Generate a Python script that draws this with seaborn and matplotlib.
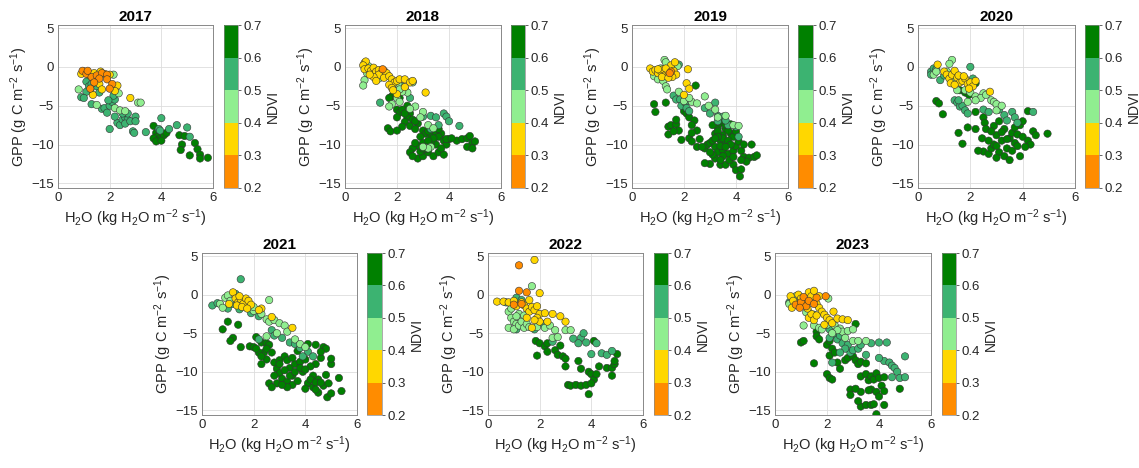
import numpy as np
import pandas as pd
import seaborn as sns
import matplotlib.pyplot as plt
from matplotlib.colors import ListedColormap, BoundaryNorm
from matplotlib.cm import ScalarMappable

# NDVI class midpoints: 0.25 orange, 0.35 yellow, 0.45 light green, 0.55 mid green, 0.65 dark green
O, Y, L, M, D = 0.25, 0.35, 0.45, 0.55, 0.65

pts_2017 = [
    (0.95, -0.5, O), (1.0, -0.6, Y), (1.1, -0.9, O), (1.2, -1.0, Y), (1.3, -1.3, O), (1.4, -0.8, Y),
    (1.5, -1.1, O), (1.65, -0.6, Y), (1.7, -0.8, O), (1.8, -0.9, Y), (1.9, -1.0, O), (2.0, -1.0, Y),
    (2.15, -1.0, L), (1.6, -1.5, O), (1.9, -1.6, O), (2.1, -2.2, O), (2.3, -2.4, Y), (1.6, -2.2, Y),
    (1.4, -2.0, O), (1.7, -2.9, Y), (2.0, -2.8, O), (2.2, -3.1, Y), (2.35, -3.4, L), (1.35, -3.6, Y),
    (1.25, -2.8, O), (2.8, -4.0, Y), (3.1, -4.6, L), (3.2, -4.6, L), (0.9, -0.9, Y), (1.15, -0.5, O),
    (0.8, -2.9, L), (1.1, -1.9, M), (1.2, -2.5, M), (1.25, -3.0, M), (1.1, -3.2, M), (1.5, -2.5, M),
    (1.6, -3.3, M), (1.3, -2.2, M), (0.9, -3.9, M), (1.0, -4.0, M), (1.3, -4.8, M), (1.5, -4.9, L),
    (1.7, -5.4, M), (1.8, -5.3, M), (1.9, -5.9, M), (2.0, -5.0, M), (2.1, -4.5, M), (2.2, -4.2, M),
    (2.15, -3.7, M), (1.95, -4.3, M), (2.2, -5.3, L), (2.4, -5.6, L), (2.0, -8.0, M), (2.3, -7.2, M),
    (2.4, -7.5, M), (2.5, -6.8, M), (2.6, -6.5, M), (2.7, -6.8, M), (2.7, -6.0, M), (2.6, -7.3, M),
    (2.8, -7.0, M), (2.9, -8.3, M), (2.95, -8.5, M), (3.4, -8.4, M), (3.0, -6.4, M), (2.5, -6.0, M),
    (2.2, -6.4, M), (2.6, -5.7, L), (3.0, -7.0, M), (3.9, -8.0, M), (4.0, -6.6, M), (4.3, -8.0, M),
    (4.6, -7.5, M), (5.0, -7.8, M), (5.1, -9.0, M), (3.7, -7.6, D), (3.8, -8.5, D), (3.85, -9.0, D),
    (3.7, -9.2, D), (3.95, -9.3, D), (4.1, -8.8, D), (3.8, -9.6, D), (4.0, -9.5, D), (4.2, -8.5, D),
    (4.7, -8.8, D), (4.9, -8.9, D), (4.8, -10.0, D), (4.75, -10.7, D), (5.1, -11.4, D), (5.3, -9.8, D),
    (5.4, -10.6, D), (5.5, -11.3, D), (5.5, -11.8, D), (5.8, -11.7, D), (3.95, -8.2, M),
]

pts_2018 = [
    (0.75, 0.5, Y), (0.8, 0.7, Y), (0.7, 0.2, Y), (0.75, -0.3, Y), (0.9, -0.2, Y), (1.0, -0.5, Y),
    (1.1, -0.1, Y), (1.2, -0.6, Y), (1.3, -0.4, Y), (1.4, -0.8, Y), (1.5, -0.5, Y), (1.45, -0.3, O),
    (1.6, -0.8, Y), (1.3, -1.0, Y), (1.1, -1.3, Y), (0.95, -1.0, Y), (1.2, -1.8, Y), (1.5, -1.4, Y),
    (1.7, -1.2, Y), (1.8, -1.6, Y), (1.9, -2.0, Y), (2.0, -1.8, Y), (2.1, -1.6, Y), (2.3, -1.6, Y),
    (2.5, -2.0, Y), (2.6, -1.8, Y), (2.3, -2.6, Y), (1.7, -2.3, Y), (1.8, -2.7, Y), (3.1, -3.3, Y),
    (2.0, -3.5, Y), (1.85, -3.0, Y),
    (0.75, -1.7, L), (0.7, -2.4, L), (0.85, -0.8, L), (0.9, 0.1, L), (1.3, -1.5, L), (2.05, -2.2, L),
    (2.3, -2.8, L), (2.6, -2.0, L), (2.0, -4.0, L), (2.1, -4.5, L), (1.8, -4.8, L), (1.7, -5.1, L),
    (2.4, -3.3, L), (2.2, -3.2, L), (2.1, -2.9, L), (2.7, -5.1, L), (2.5, -5.4, L), (3.0, -5.8, L),
    (2.9, -6.5, L), (3.2, -7.5, L), (3.4, -7.9, L), (3.3, -10.3, L), (3.2, -10.5, L), (3.0, -10.3, L),
    (1.35, -4.6, M), (2.2, -2.5, M), (2.5, -4.0, M), (3.0, -6.4, M), (3.3, -6.3, M), (3.5, -6.5, M),
    (3.8, -6.0, M), (3.9, -6.4, M), (4.0, -7.0, M), (4.4, -7.6, M), (3.6, -7.5, M), (3.3, -8.0, M),
    (2.6, -1.9, M),
    (1.8, -3.8, D), (1.7, -4.0, D), (2.1, -4.0, D), (2.4, -5.0, D), (2.0, -5.5, D), (2.1, -5.9, D),
    (2.2, -5.5, D), (2.5, -6.0, D), (2.4, -6.5, D), (2.3, -7.1, D), (2.6, -6.8, D), (2.8, -7.3, D),
    (2.2, -7.7, D), (2.5, -7.6, D), (2.7, -8.0, D), (3.0, -8.2, D), (3.1, -8.6, D), (2.9, -9.0, D),
    (3.3, -8.7, D), (3.5, -8.5, D), (3.7, -8.6, D), (3.6, -9.0, D), (3.8, -9.5, D), (3.4, -9.6, D),
    (3.0, -9.8, D), (2.8, -10.2, D), (2.6, -10.5, D), (2.5, -11.0, D), (2.8, -11.8, D), (3.0, -11.5, D),
    (3.2, -11.0, D), (3.4, -11.5, D), (3.6, -11.0, D), (3.8, -11.3, D), (3.5, -10.0, D), (3.9, -10.0, D),
    (4.0, -9.3, D), (4.3, -9.5, D), (4.5, -9.3, D), (4.7, -9.2, D), (4.8, -8.9, D), (4.9, -9.8, D),
    (5.0, -9.6, D), (4.7, -10.3, D), (4.9, -10.5, D), (1.65, -7.9, D), (1.75, -8.3, D), (2.0, -8.2, D),
    (3.1, -10.6, D), (2.9, -10.9, D), (3.3, -9.9, D), (3.2, -8.3, D), (3.4, -9.2, D), (3.6, -8.0, D),
    (3.0, -10.5, D), (2.6, -11.5, D), (3.2, -9.5, D), (3.7, -10.5, D), (2.7, -9.8, D), (3.9, -9.3, D),
    (4.1, -9.2, D), (2.3, -6.0, D), (2.0, -6.5, D), (2.7, -7.0, D),
]

pts_2019 = [
    (0.7, -0.2, Y), (0.8, -0.6, Y), (0.9, -0.4, Y), (1.0, -0.8, Y), (1.1, -0.5, Y), (1.2, -0.3, Y),
    (1.3, -1.0, Y), (1.4, -0.6, Y), (1.5, 0.2, Y), (1.6, -0.5, Y), (1.7, -1.0, Y), (1.55, -1.3, Y),
    (1.65, 0.6, Y), (1.3, -0.2, Y), (1.15, -1.3, Y), (1.0, -0.3, Y), (2.1, -2.1, Y), (2.2, -2.8, Y),
    (2.0, -3.6, Y), (2.15, -0.3, Y), (1.4, -1.4, Y), (1.5, -0.6, O), (1.45, -0.8, O),
    (1.25, 0.9, L), (1.3, 0.6, L), (1.1, -0.2, L), (0.85, -1.2, L), (1.0, -1.6, L), (1.2, -1.8, L),
    (1.3, -2.5, L), (1.35, -2.9, L), (1.75, 0.1, L), (1.5, -0.2, L), (2.0, -4.4, L), (2.3, -4.5, L),
    (2.5, -4.7, L), (2.8, -3.8, L), (2.95, -5.0, L), (3.2, -5.5, L), (3.6, -6.3, L), (3.9, -7.5, L),
    (4.1, -7.6, L), (3.3, -6.5, L), (1.8, -3.2, L), (2.2, -4.0, L),
    (1.6, -3.7, M), (1.7, -4.2, M), (1.85, -4.2, M), (1.9, -5.0, M), (2.05, -4.6, M), (2.1, -5.3, M),
    (2.2, -5.7, M), (2.8, -5.3, M), (3.0, -6.0, M), (3.2, -4.6, M), (3.3, -6.3, M), (1.8, 0.3, M),
    (3.5, -6.4, M), (3.7, -7.5, M), (4.1, -9.0, M), (3.3, -7.0, M), (3.6, -6.9, M), (4.0, -7.7, M),
    (0.85, -4.8, D), (0.9, -5.8, D), (1.3, -4.6, D), (1.4, -7.7, D), (1.5, -7.5, D), (1.4, -8.7, D),
    (1.7, -7.4, D), (1.8, -8.2, D), (1.9, -9.4, D), (2.0, -5.7, D), (2.1, -6.0, D), (2.2, -6.5, D),
    (2.4, -6.9, D), (2.3, -7.5, D), (2.5, -8.2, D), (2.45, -2.4, D), (2.2, -9.2, D), (2.6, -9.3, D),
    (2.3, -9.6, D), (2.5, -10.3, D), (2.8, -10.5, D), (2.9, -10.0, D), (3.0, -9.8, D), (3.1, -9.5, D),
    (3.2, -8.6, D), (3.3, -7.8, D), (3.1, -7.5, D), (3.4, -7.2, D), (3.5, -7.0, D), (3.6, -8.0, D),
    (3.5, -8.8, D), (3.4, -9.5, D), (3.6, -9.8, D), (3.8, -8.6, D), (3.9, -9.0, D), (4.0, -8.3, D),
    (3.2, -10.3, D), (3.3, -11.0, D), (3.5, -10.7, D), (3.7, -11.2, D), (3.9, -10.8, D), (4.0, -10.2, D),
    (4.2, -10.8, D), (4.3, -11.6, D), (4.5, -11.7, D), (4.7, -11.6, D), (4.8, -11.4, D), (4.6, -10.0, D),
    (3.2, -11.8, D), (3.4, -12.6, D), (3.0, -12.5, D), (2.8, -12.4, D), (3.6, -12.6, D), (3.9, -12.6, D),
    (4.0, -13.3, D), (4.2, -13.2, D), (4.15, -14.1, D), (4.4, -12.2, D), (3.75, -12.0, D), (3.1, -11.3, D),
    (3.3, -8.3, D), (3.5, -9.2, D), (3.7, -9.5, D), (3.8, -10.0, D), (3.4, -10.2, D), (3.6, -10.3, D),
    (3.3, -9.0, D), (3.7, -8.2, D), (4.1, -9.6, D), (4.3, -10.0, D), (3.9, -11.6, D), (3.5, -11.5, D),
    (3.2, -9.2, D), (3.8, -7.4, D), (4.2, -12.0, D), (3.4, -12.0, D), (3.0, -11.0, D), (2.7, -10.3, D),
    (3.6, -7.5, D), (1.7, -6.8, D), (1.6, -8.3, D), (2.3, -8.5, D),
]

pts_2020 = [
    (0.75, 0.3, Y), (1.0, -0.6, Y), (1.1, -1.0, Y), (1.2, -1.5, Y), (1.3, -1.0, Y), (1.4, -0.5, Y),
    (1.5, -1.4, Y), (1.6, -2.0, Y), (1.7, -1.8, Y), (1.8, -1.5, Y), (1.9, -2.2, Y), (2.0, -2.0, Y),
    (2.1, -2.5, Y), (2.2, -1.8, Y), (1.95, -2.8, Y), (1.25, -2.1, Y), (1.55, -1.1, Y), (1.75, -1.2, Y),
    (2.75, -3.2, Y), (1.4, -2.3, Y),
    (1.3, 0.9, L), (1.2, 0.4, L), (1.1, -0.6, L), (0.6, -1.0, L), (0.7, -0.6, L), (1.5, -3.0, L),
    (1.8, -3.0, L), (2.0, -3.3, L), (2.2, -3.8, L), (2.5, -3.4, L), (2.4, -4.0, L), (2.6, -3.6, L),
    (2.8, -4.3, L), (2.9, -4.5, L), (3.0, -4.8, L), (2.2, -4.3, L), (1.9, -4.5, L), (3.0, -5.6, L),
    (3.2, -5.0, L), (1.3, -1.8, L),
    (0.5, -0.6, M), (0.6, -0.2, M), (0.7, -0.3, M), (0.5, -1.0, M), (0.85, -1.7, M), (1.0, -1.1, M),
    (1.1, -0.8, M), (2.0, 0.0, M), (2.1, -1.5, M), (1.4, -4.3, M), (1.5, -4.6, M), (1.6, -5.1, M),
    (1.7, -5.0, M), (1.8, -5.6, M), (1.9, -6.0, M), (1.55, -4.3, M), (2.5, -5.5, M), (2.7, -5.8, M),
    (3.1, -5.5, M), (3.3, -6.2, M), (3.6, -5.8, M), (3.7, -6.5, M), (4.4, -5.8, M), (3.4, -6.9, M),
    (3.8, -7.2, M),
    (0.7, -4.4, D), (0.8, -4.7, D), (0.95, -6.1, D), (1.6, -3.0, D), (1.8, -3.3, D), (2.2, -2.1, D),
    (1.95, -3.6, D), (1.55, -8.5, D), (1.7, -9.9, D), (1.9, -7.8, D), (2.2, -8.0, D), (2.5, -6.5, D),
    (2.55, -7.2, D), (2.6, -8.0, D), (2.45, -9.2, D), (2.5, -10.9, D), (2.7, -11.2, D), (2.8, -10.5, D),
    (2.9, -10.0, D), (2.7, -9.5, D), (3.0, -8.8, D), (2.9, -7.6, D), (3.1, -7.0, D), (3.2, -9.5, D),
    (3.1, -11.0, D), (3.3, -11.5, D), (3.5, -12.0, D), (3.4, -10.5, D), (3.6, -10.8, D), (3.7, -9.8, D),
    (3.5, -9.2, D), (3.6, -8.5, D), (3.8, -8.7, D), (3.9, -7.5, D), (4.0, -7.0, D), (4.0, -9.0, D),
    (4.2, -9.5, D), (4.3, -10.0, D), (3.9, -11.5, D), (4.1, -10.3, D), (4.4, -8.3, D), (4.5, -8.8, D),
    (4.2, -5.7, D), (4.95, -8.6, D), (3.3, -8.0, D), (2.3, -10.8, D), (3.0, -11.7, D), (2.2, -5.8, D),
    (3.0, -10.2, D), (3.2, -8.4, D), (3.4, -9.3, D), (3.7, -7.8, D), (3.8, -10.2, D), (2.8, -8.3, D),
]

pts_2021 = [
    (1.2, 0.3, Y), (1.3, -0.5, Y), (1.4, -1.0, Y), (1.5, -0.6, Y), (1.6, -1.2, Y), (1.7, -0.5, Y),
    (1.8, -0.8, Y), (1.9, -1.3, Y), (1.35, -1.4, Y), (1.55, -1.6, Y), (1.75, -1.8, Y), (2.3, -1.8, Y),
    (2.2, -2.0, Y), (2.7, -2.9, Y), (3.5, -4.3, Y), (1.45, -0.2, Y), (1.05, -1.2, Y),
    (0.7, -1.2, L), (0.9, -0.4, L), (1.0, -0.1, L), (0.8, -1.7, L), (1.1, -0.8, L), (2.6, -0.7, L),
    (2.0, -2.1, L), (2.3, -2.5, L), (2.5, -3.2, L), (2.6, -3.5, L), (2.8, -3.3, L), (3.0, -3.7, L),
    (3.2, -4.0, L), (3.3, -4.8, L), (2.9, -5.0, L), (2.5, -5.4, L), (3.6, -5.8, L), (3.8, -6.4, L),
    (4.0, -6.8, L), (2.0, -1.6, L),
    (1.5, 2.0, M), (0.4, -1.4, M), (0.6, -1.1, M), (1.3, 0.1, M), (1.0, -1.8, M), (1.2, -1.2, M),
    (1.45, -1.9, M), (2.2, -2.8, M), (1.9, -2.4, M), (2.7, -4.6, M), (2.8, -5.3, M), (3.1, -5.6, M),
    (3.4, -6.2, M), (3.6, -6.4, M), (3.8, -6.9, M), (4.1, -7.4, M), (4.3, -8.0, M), (3.9, -8.0, M),
    (2.2, -5.8, M),
    (0.8, -4.5, D), (1.0, -3.5, D), (1.2, -5.6, D), (1.4, -3.9, D), (1.5, -6.8, D), (1.1, -6.0, D),
    (1.85, -6.7, D), (2.0, -6.8, D), (2.1, -5.5, D), (2.3, -6.2, D), (2.5, -6.3, D), (2.4, -7.5, D),
    (2.6, -6.5, D), (2.7, -7.5, D), (2.2, -7.5, D), (2.5, -8.4, D), (2.3, -9.0, D), (2.8, -8.8, D),
    (3.0, -8.5, D), (3.2, -8.0, D), (2.9, -9.6, D), (3.0, -10.2, D), (3.1, -10.9, D), (2.9, -11.5, D),
    (2.6, -11.5, D), (2.7, -12.0, D), (3.3, -11.3, D), (3.5, -11.7, D), (3.7, -11.2, D), (3.5, -10.5, D),
    (3.4, -9.5, D), (3.6, -9.0, D), (3.8, -8.7, D), (4.0, -8.4, D), (4.1, -6.4, D), (4.4, -6.5, D),
    (4.7, -6.8, D), (4.8, -7.0, D), (4.6, -8.2, D), (4.4, -9.0, D), (4.2, -9.3, D), (4.3, -10.5, D),
    (4.5, -11.0, D), (4.1, -11.5, D), (4.3, -12.0, D), (4.0, -12.2, D), (4.5, -12.7, D), (4.7, -11.8, D),
    (4.9, -11.5, D), (4.85, -13.3, D), (5.0, -12.8, D), (5.4, -12.5, D), (5.0, -9.0, D), (5.0, -8.3, D),
    (4.8, -10.4, D), (5.3, -10.8, D), (3.9, -10.0, D), (3.3, -12.0, D), (3.0, -9.0, D), (3.2, -9.8, D),
    (3.4, -10.5, D), (3.6, -10.0, D), (3.3, -8.5, D), (3.5, -8.2, D), (3.8, -9.5, D), (4.0, -9.7, D),
    (2.8, -10.5, D), (3.1, -11.7, D), (4.2, -11.0, D), (4.4, -11.4, D), (4.6, -11.4, D), (4.4, -12.3, D),
    (2.5, -7.0, D), (2.1, -7.0, D), (2.3, -8.0, D), (3.7, -7.3, D), (4.6, -7.4, D),
]

pts_2022 = [
    (1.2, 3.8, O), (1.2, 0.5, O), (1.5, 0.3, O), (1.0, -1.3, O), (1.3, -1.2, O),
    (1.8, 4.5, Y), (0.35, -0.9, Y), (0.6, -0.9, Y), (0.8, -1.0, Y), (1.0, -0.8, Y), (1.1, -1.5, Y),
    (1.3, -1.0, Y), (1.4, -1.4, Y), (1.5, -1.8, Y), (1.6, -2.2, Y), (1.7, -1.6, Y), (1.8, -2.0, Y),
    (1.9, -1.5, Y), (2.0, -2.5, Y), (1.9, -3.0, Y), (2.0, -3.5, Y), (1.8, -3.3, Y), (2.2, -2.4, Y),
    (2.5, -2.5, Y), (2.8, -2.8, Y), (3.0, -3.5, Y), (2.0, 0.2, Y), (1.6, -0.7, Y), (1.7, -4.3, Y),
    (2.3, -3.5, Y), (1.5, -3.0, Y),
    (1.7, 1.1, L), (0.8, -2.2, L), (0.9, -3.0, L), (1.0, -3.5, L), (1.1, -3.8, L), (0.8, -4.3, L),
    (1.0, -4.5, L), (1.2, -4.0, L), (1.3, -3.5, L), (1.4, -4.3, L), (1.5, -3.8, L), (1.6, -4.2, L),
    (1.2, -2.5, L), (1.4, -2.7, L), (0.9, -1.8, L), (2.2, -4.3, L), (2.4, -4.0, L), (2.6, -4.6, L),
    (2.5, -5.6, L), (2.7, -5.5, L), (3.0, -4.6, L), (3.2, -4.6, L), (1.9, -4.2, L), (1.1, -2.8, L),
    (0.7, -1.0, M), (1.1, -0.4, M), (1.3, -0.7, M), (0.9, -1.3, M), (1.1, -4.5, M), (1.8, -4.5, M),
    (2.1, -3.8, M), (2.5, -6.1, M), (3.3, -5.7, M), (3.6, -5.6, M), (3.7, -5.0, M), (3.8, -6.2, M),
    (3.5, -6.3, M), (4.2, -6.3, M), (4.4, -7.6, M), (4.6, -7.8, M), (4.8, -7.3, M), (4.0, -7.7, M),
    (1.85, -6.0, D), (2.0, -6.3, D), (1.9, -7.9, D), (2.2, -6.7, D), (2.3, -6.3, D), (2.3, -7.4, D),
    (2.6, -7.2, D), (2.7, -7.8, D), (2.9, -8.0, D), (3.0, -8.3, D), (2.8, -6.6, D), (3.0, -9.3, D),
    (3.1, -11.7, D), (3.2, -11.8, D), (3.4, -11.7, D), (3.6, -11.8, D), (3.8, -11.7, D), (3.9, -12.9, D),
    (3.5, -8.6, D), (3.6, -9.6, D), (3.9, -10.0, D), (4.0, -10.3, D), (4.1, -11.0, D), (4.2, -10.3, D),
    (4.3, -9.3, D), (4.6, -9.5, D), (4.8, -9.5, D), (4.9, -9.0, D), (5.0, -7.7, D), (4.9, -8.6, D),
    (4.8, -10.5, D), (4.1, -6.0, D), (4.0, -11.5, D),
]

pts_2023 = [
    (0.8, -1.3, O), (1.0, -1.0, O), (1.1, -0.3, O), (1.2, -1.5, O), (1.3, -0.8, O), (1.6, -0.4, O),
    (1.95, -0.2, O), (1.5, -1.2, O), (0.95, -1.7, O),
    (0.6, -0.2, Y), (0.7, -0.8, Y), (0.9, 0.0, Y), (1.0, -0.5, Y), (1.1, -1.2, Y), (1.3, 0.3, Y),
    (1.4, -0.2, Y), (1.5, 0.5, Y), (1.7, -0.2, Y), (1.6, -1.2, Y), (1.7, -1.7, Y), (1.8, -2.2, Y),
    (1.9, -2.6, Y), (2.0, -3.0, Y), (2.1, -3.3, Y), (2.2, -3.7, Y), (2.4, -3.1, Y), (2.6, -3.2, Y),
    (2.8, -3.3, Y), (1.3, -3.0, Y), (1.4, -2.5, Y), (1.5, -3.3, Y), (1.9, -3.9, Y), (0.65, -1.7, Y),
    (1.25, -1.8, Y), (1.6, -2.7, Y), (2.25, -2.2, Y),
    (0.8, -0.2, L), (0.75, -0.9, L), (0.55, -1.2, L), (1.2, -2.3, L), (2.05, -0.5, L), (1.1, -4.0, L),
    (1.5, -4.0, L), (1.7, -4.3, L), (1.8, -4.5, L), (2.0, -3.9, L), (2.3, -4.0, L), (2.5, -4.4, L),
    (2.6, -4.8, L), (2.8, -4.7, L), (3.0, -4.5, L), (2.7, -5.6, L), (3.0, -6.0, L), (3.2, -6.0, L),
    (3.5, -6.0, L), (2.4, -4.6, L), (2.2, -5.0, L),
    (0.55, -1.0, M), (1.3, -2.3, M), (1.5, -2.6, M), (2.1, -4.5, M), (2.3, -5.3, M), (2.4, -5.8, M),
    (2.5, -5.3, M), (2.6, -6.3, M), (2.8, -6.5, M), (2.9, -7.5, M), (3.0, -7.2, M), (3.2, -7.0, M),
    (3.3, -6.5, M), (2.7, -7.0, M), (2.5, -7.5, M), (2.2, -8.8, M), (3.7, -6.3, M), (4.0, -6.2, M),
    (4.3, -6.2, M), (3.5, -7.8, M), (4.2, -8.6, M), (4.4, -8.8, M), (4.5, -9.2, M), (4.6, -9.5, M),
    (4.7, -10.0, M), (4.8, -10.8, M), (4.5, -10.7, M), (5.0, -10.7, M), (5.0, -8.0, M), (4.0, -8.2, M),
    (2.1, -5.6, M),
    (1.6, -4.8, D), (1.6, -5.4, D), (1.7, -5.8, D), (1.0, -6.2, D), (1.1, -6.0, D), (1.5, -8.9, D),
    (2.0, -6.5, D), (2.1, -6.0, D), (2.1, -7.9, D), (2.2, -7.0, D), (2.3, -7.5, D), (2.4, -8.8, D),
    (2.0, -10.3, D), (2.1, -10.8, D), (2.2, -11.0, D), (2.5, -9.6, D), (2.7, -8.5, D), (2.8, -8.2, D),
    (3.0, -8.0, D), (3.1, -3.8, D), (3.1, -8.5, D), (3.2, -9.0, D), (3.3, -8.7, D), (3.5, -8.9, D),
    (3.3, -10.6, D), (3.5, -10.3, D), (3.6, -11.1, D), (3.7, -10.6, D), (3.8, -11.0, D), (3.9, -10.2, D),
    (4.0, -10.8, D), (4.2, -10.7, D), (3.7, -12.3, D), (3.9, -12.6, D), (3.6, -12.4, D), (4.0, -13.2, D),
    (4.1, -11.8, D), (4.2, -12.5, D), (3.3, -14.5, D), (3.5, -14.3, D), (3.7, -14.3, D), (3.9, -15.5, D),
    (3.8, -14.2, D), (4.2, -14.3, D), (3.2, -13.8, D), (2.9, -12.3, D), (2.9, -13.0, D), (3.3, -12.6, D),
    (4.8, -12.2, D), (3.1, -12.2, D),
]

years = ['2017', '2018', '2019', '2020', '2021', '2022', '2023']
year_pts = [pts_2017, pts_2018, pts_2019, pts_2020, pts_2021, pts_2022, pts_2023]

ndvi_bounds = [0.2, 0.3, 0.4, 0.5, 0.6, 0.7]
ndvi_colors = ['#FF8C00', '#FFD700', '#90EE90', '#3CB371', '#008000']

sns.set_style('white')
plt.rcParams['font.family'] = ['Liberation Sans', 'DejaVu Sans']
plt.rcParams['mathtext.default'] = 'regular'
txt = '#262626'

W, H = 1139, 468
fig = plt.figure(figsize=(W / 100, H / 100), dpi=100)

# pixel boxes: (ax left, ax right, cbar left, cbar right, top, bottom)
boxes = [
    (58, 213, 224, 238, 25, 188),
    (345, 501, 511, 525, 25, 188),
    (632, 788, 798, 813, 25, 188),
    (918, 1075, 1085, 1099, 25, 188),
    (202, 357, 367, 382, 253, 415),
    (488, 643, 654, 668, 253, 415),
    (775, 931, 942, 956, 253, 415),
]

cmap = ListedColormap(ndvi_colors)
norm = BoundaryNorm(ndvi_bounds, cmap.N)
palette = {v: c for v, c in zip([O, Y, L, M, D], ndvi_colors)}

for yr, pts, (l, r, cl, cr, t, b) in zip(years, year_pts, boxes):
    ax = fig.add_axes([l / W, 1 - b / H, (r - l) / W, (b - t) / H])
    df = pd.DataFrame(pts, columns=['h2o', 'gpp', 'ndvi'])
    df = df.sort_values('ndvi', ascending=False, kind='stable')
    sns.scatterplot(data=df, x='h2o', y='gpp', hue='ndvi', palette=palette,
                    s=28, edgecolor='#333333', linewidth=0.4, legend=False, ax=ax, zorder=3)
    ax.set_xlim(0, 6)
    ax.set_ylim(-15.6, 5.4)
    ax.set_xticks([0, 2, 4, 6])
    ax.set_yticks([-15, -10, -5, 0, 5])
    ax.grid(True, color='#dddddd', linewidth=0.6)
    ax.set_axisbelow(True)
    for sp in ax.spines.values():
        sp.set_color('#888888')
        sp.set_linewidth(0.7)
    ax.tick_params(labelsize=9.5, colors=txt, length=0, pad=3)
    ax.set_title(yr, fontsize=11, fontweight='bold', pad=3, color='black')
    ax.set_xlabel('H$_2$O (kg H$_2$O m$^{-2}$ s$^{-1}$)', fontsize=10.5, color=txt, labelpad=2)
    ax.set_ylabel('GPP (g C m$^{-2}$ s$^{-1}$)', fontsize=10.5, color=txt, labelpad=1)

    cax = fig.add_axes([cl / W, 1 - b / H, (cr - cl) / W, (b - t) / H])
    cb = fig.colorbar(ScalarMappable(norm=norm, cmap=cmap), cax=cax, ticks=ndvi_bounds)
    cb.ax.set_yticklabels(['0.2', '0.3', '0.4', '0.5', '0.6', '0.7'])
    cb.ax.tick_params(labelsize=9.5, colors=txt, length=2, width=0.5, pad=2)
    cb.outline.set_edgecolor('#888888')
    cb.outline.set_linewidth(0.5)
    cb.set_label('NDVI', fontsize=10, color=txt, labelpad=3)

fig.savefig('out.png', dpi=100)
